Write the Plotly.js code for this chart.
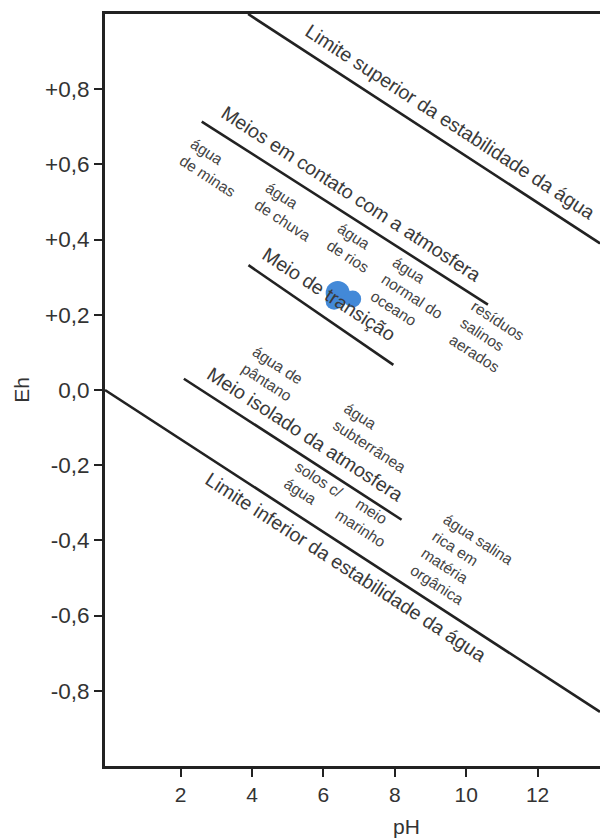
<!DOCTYPE html>
<html>
<head>
<meta charset="utf-8">
<script src="https://cdn.plot.ly/plotly-3.0.1.min.js"></script>
<style>html,body{margin:0;padding:0;background:#fff;overflow:hidden;}</style>
</head>
<body>
<div id="chart" style="width:600px;height:839px;"></div>
<script>
// ---- data (pH, Eh) ----
const upperLimitPH = [3.89, 13.75];
const upperLimitEh = [1.0, 0.39];
const atmospherePH = [2.59, 10.61];
const atmosphereEh = [0.714, 0.227];
const transitionPH = [3.90, 7.96];
const transitionEh = [0.332, 0.067];
const isolatedPH = [2.09, 8.19];
const isolatedEh = [0.030, -0.345];
const lowerLimitPH = [-0.12, 13.75];
const lowerLimitEh = [0.0, -0.856];
const blobPH = [6.40, 6.30, 6.82];
const blobEh = [0.258, 0.236, 0.242];

const xTickVals = [2, 4, 6, 8, 10, 12];
const xTickText = ['2', '4', '6', '8', '10', '12'];
const yTickVals = [0.8, 0.6, 0.4, 0.2, 0.0, -0.2, -0.4, -0.6, -0.8];
const yTickText = ['+0,8', '+0,6', '+0,4', '+0,2', '0,0', '-0,2', '-0,4', '-0,6', '-0,8'];

const bigLabels = ['Limite superior da estabilidade da água', 'Meios em contato com a atmosfera',
  'Meio de transição', 'Meio isolado da atmosfera', 'Limite inferior da estabilidade da água'];
const smallLabels = ['água<br>de minas', 'água<br>de chuva', 'água<br>de rios', 'água<br>normal do<br>oceano',
  'resíduos<br>salinos<br>aerados', 'água de<br>pântano', 'água<br>subterrânea', 'solos c/<br>água',
  'meio<br>marinho', 'água salina<br>rica em<br>matéria<br>orgânica'];

const FONT = 'Liberation Sans, Arial, sans-serif';
const lineStyle = {color: '#222', width: 2.6};
const mk = (x, y) => ({x: x, y: y, mode: 'lines', line: lineStyle, hoverinfo: 'skip', showlegend: false});

const traces = [
  mk(upperLimitPH, upperLimitEh),
  mk(atmospherePH, atmosphereEh),
  mk(transitionPH, transitionEh),
  mk(isolatedPH, isolatedEh),
  mk(lowerLimitPH, lowerLimitEh),
  {x: blobPH, y: blobEh, mode: 'markers', opacity: 1,
   marker: {color: '#4389d8', opacity: 1, size: [24, 17, 17], line: {width: 0}},
   hoverinfo: 'skip', showlegend: false}
];

const bigPos = [[9.57, 0.713], [6.80, 0.522], [6.15, 0.255], [5.49, -0.117], [6.63, -0.471]];
const smallPos = [[2.91, 0.593], [5.01, 0.476], [6.83, 0.378], [8.51, 0.250], [10.59, 0.139],
  [4.56, 0.043], [7.45, -0.125], [5.71, -0.260], [7.19, -0.345], [9.88, -0.465]];
const smallAlign = ['left', 'left', 'left', 'left', 'left', 'left', 'left', 'left', 'center', 'left'];

const annotations = [];
bigLabels.forEach((t, i) => annotations.push({
  x: bigPos[i][0], y: bigPos[i][1], xref: 'x', yref: 'y', text: t, showarrow: false,
  textangle: 33, font: {family: FONT, size: 19.5, color: '#3a3a3a'}, xanchor: 'center', yanchor: 'middle'
}));
smallLabels.forEach((t, i) => annotations.push({
  x: smallPos[i][0], y: smallPos[i][1], xref: 'x', yref: 'y', text: t, showarrow: false,
  textangle: 33, align: smallAlign[i], font: {family: FONT, size: 15.5, color: '#444'},
  xanchor: 'center', yanchor: 'middle'
}));
annotations.push({
  x: 0.61, y: -0.08, xref: 'paper', yref: 'paper', text: 'pH', showarrow: false,
  font: {family: FONT, size: 21, color: '#333'}, xanchor: 'center', yanchor: 'middle'
});

const layout = {
  width: 600, height: 839,
  margin: {l: 105, r: 0, t: 14, b: 73},
  paper_bgcolor: '#fff', plot_bgcolor: '#fff',
  showlegend: false,
  xaxis: {
    range: [-0.12, 13.75], showgrid: false, zeroline: false,
    showline: true, linecolor: '#222', linewidth: 3, mirror: true,
    tickmode: 'array', tickvals: xTickVals, ticktext: xTickText,
    ticks: 'outside', ticklen: 8, tickwidth: 2, tickcolor: '#222',
    tickfont: {family: FONT, size: 21, color: '#333'}
  },
  yaxis: {
    range: [-1, 1], showgrid: false, zeroline: false,
    showline: true, linecolor: '#222', linewidth: 3, mirror: false,
    tickmode: 'array', tickvals: yTickVals, ticktext: yTickText,
    ticks: 'outside', ticklen: 8, tickwidth: 2, tickcolor: '#222',
    tickfont: {family: FONT, size: 22.5, color: '#333'},
    title: {text: 'Eh', font: {family: FONT, size: 21, color: '#333'}, standoff: 10}
  },
  annotations: annotations
};

Plotly.newPlot('chart', traces, layout, {displayModeBar: false, staticPlot: true});
</script>
</body>
</html>
